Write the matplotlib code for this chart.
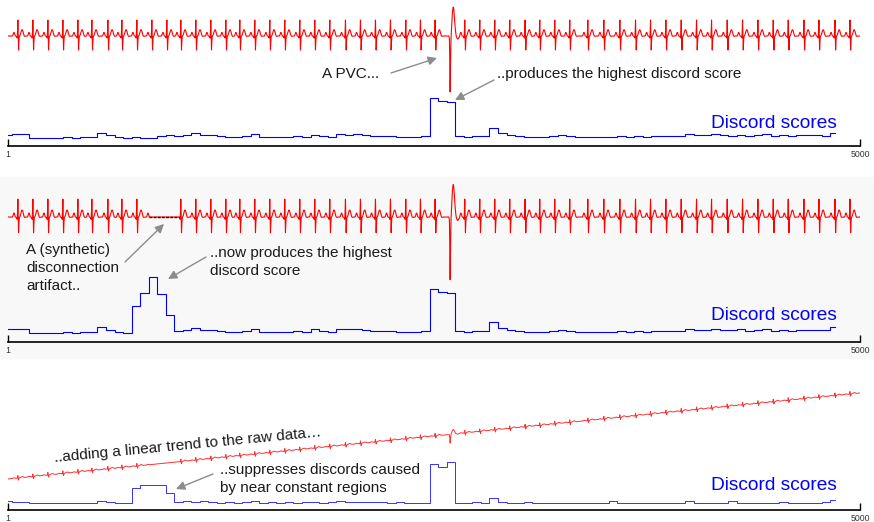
import matplotlib
matplotlib.use('Agg')
import matplotlib.pyplot as plt
from matplotlib.patches import Rectangle
import numpy as np

plt.rcParams['font.family'] = ['Liberation Sans', 'DejaVu Sans']

W, H = 874, 522
n_samples = 5000

# normal beat, one value every 2 samples, from 32 samples before R to 48 after
beat_shape = [0.0, 0.05, 0.15, 0.28, 0.35, 0.35, 0.28, 0.15, 0.05, 0.0,
              -0.02, -0.03, -0.05, -0.1, -0.2, 0.5, 1.6, 0.2, -1.4, -0.6,
              -0.1, 0.0, 0.05, 0.12, 0.22, 0.35, 0.48, 0.58, 0.62, 0.62,
              0.55, 0.42, 0.28, 0.15, 0.06, 0.0, -0.03, -0.03, -0.02, -0.01, 0.0]
beat_before = 32

# premature ventricular contraction, every 2 samples from 8 before to 64 after
pvc_shape = [0.0, -0.1, -0.3, -2.5, -5.6, -3.0, -1.2, 0.0, 0.7, 1.3,
             1.9, 2.4, 2.7, 2.9, 2.85, 2.6, 2.2, 1.7, 1.2, 0.8,
             0.45, 0.2, 0.0, -0.1, -0.2, -0.25, -0.3, -0.3, -0.25, -0.2,
             -0.15, -0.1, -0.05, -0.02, 0.0, 0.0, 0.0]
pvc_before = 8

beat_times = [59, 147, 235, 323, 411, 493, 587, 669, 757, 845, 933, 1015,
              1103, 1191, 1279, 1361, 1449, 1537, 1625, 1713, 1801, 1889,
              1982, 2070, 2158, 2246, 2335, 2422, 2507, 2682, 2770, 2858,
              2946, 3036, 3122, 3210, 3298, 3403, 3497, 3591, 3683, 3771,
              3861, 3951, 4041, 4129, 4221, 4311, 4401, 4491, 4579, 4671,
              4760, 4853, 4941]
pvc_time = 2595

# flat-lined stretch in the second recording
gap = (830, 1008)
trend_rise = 55.0

# discord scores, one value every 50 samples
score1 = [1.13, 1.2, 1.2, 0.8, 0.78, 0.83, 0.8, 0.85, 0.82, 0.9,
          0.86, 1.3, 1.1, 0.85, 0.83, 0.86, 0.83, 0.8, 1.0, 1.05,
          0.98, 1.1, 1.25, 1.1, 1.05, 0.95, 0.87, 0.9, 0.95, 1.2,
          0.85, 0.88, 0.93, 0.9, 0.95, 0.93, 1.13, 0.98, 0.92, 1.15,
          1.13, 1.18, 1.05, 1.0, 0.95, 0.95, 0.88, 0.88, 0.9, 1.0,
          4.75, 4.45, 4.35, 0.95, 0.9, 1.0, 0.95, 1.8, 1.25, 1.05,
          1.0, 0.9, 0.9, 0.9, 0.95, 1.05, 1.0, 0.92, 0.9, 0.9,
          0.87, 0.9, 0.95, 0.92, 0.96, 0.93, 0.98, 0.96, 1.0, 0.97,
          1.15, 1.1, 1.06, 1.18, 1.1, 1.04, 1.13, 1.0, 1.06, 1.15,
          1.0, 1.05, 0.98, 1.1, 1.06, 1.1, 1.03, 1.3]
score2 = list(score1)
score2[15:20] = [3.2, 4.4, 5.8, 4.3, 2.4]
score3 = [0.9, 0.8, 0.85, 0.7, 0.75, 0.7, 0.75, 0.7, 0.75, 0.7,
          0.75, 0.95, 0.85, 0.75, 0.75, 2.2, 2.55, 2.55, 2.5, 1.7,
          0.8, 0.95, 0.8, 0.95, 0.85, 0.75, 0.8, 0.75, 0.85, 0.95,
          0.75, 0.8, 0.75, 0.8, 0.75, 0.8, 0.85, 0.75, 0.8, 0.95,
          0.8, 0.85, 0.8, 0.85, 0.8, 0.75, 0.8, 0.75, 0.75, 0.75,
          4.6, 4.3, 4.8, 0.7, 0.7, 0.85, 0.7, 1.25, 0.8, 0.7,
          0.75, 0.85, 0.7, 0.7, 0.7, 0.75, 0.7, 0.7, 0.75, 0.7,
          0.7, 0.9, 0.75, 0.7, 0.7, 0.7, 0.75, 0.7, 0.7, 0.7,
          0.9, 0.75, 0.7, 0.75, 0.7, 0.9, 0.75, 0.7, 0.75, 0.7,
          0.7, 0.85, 0.7, 0.75, 0.7, 0.75, 0.8, 1.0]
score_step = 50


def px(x, y):
    return x / W, 1 - y / H


def build_ecg():
    t = np.arange(1, n_samples + 1, 2)
    ecg = np.zeros(len(t))
    for b in beat_times:
        k = (b - 1) // 2 - beat_before // 2
        ecg[k:k + len(beat_shape)] += beat_shape
    k = (pvc_time - 1) // 2 - pvc_before // 2
    ecg[k:k + len(pvc_shape)] += pvc_shape
    return t, ecg


def panel(fig, top, bottom, sig_lim, mp_lim):
    rect = [8 / W, 1 - bottom / H, 852 / W, (bottom - top) / H]
    ax_sig = fig.add_axes(rect)
    ax_mp = fig.add_axes(rect)
    for a in (ax_sig, ax_mp):
        a.set_xlim(1, n_samples)
        a.patch.set_alpha(0)
    ax_sig.set_ylim(*sig_lim)
    ax_sig.axis('off')
    ax_mp.set_ylim(*mp_lim)
    for s in ('top', 'left', 'right'):
        ax_mp.spines[s].set_visible(False)
    ax_mp.spines['bottom'].set_linewidth(1.2)
    ax_mp.set_yticks([])
    ax_mp.set_xticks([1, n_samples])
    ax_mp.tick_params(axis='x', direction='in', length=5, width=1,
                      labelsize=6.3, pad=3, labelcolor='#333333')
    return ax_sig, ax_mp


def arrow(fig, x0, y0, x1, y1):
    fig.axes[0].annotate('', xy=(x1, H - y1), xycoords='figure pixels',
                         xytext=(x0, H - y0), textcoords='figure pixels',
                         arrowprops=dict(arrowstyle='-|>', color='#8c8c8c', lw=1,
                                         mutation_scale=13, shrinkA=0, shrinkB=0))


def label(fig, x, y, s, **kw):
    # y is the baseline of the last line
    fx, fy = px(x, y)
    fig.text(fx, fy, s, fontsize=11, color='#1a1a1a', va='baseline',
             linespacing=1.38, **kw)


t, ecg1 = build_ecg()
ecg2 = ecg1.copy()
flat = (t >= gap[0]) & (t <= gap[1])
ecg2[flat] = 0.0
ecg3 = ecg2 + np.linspace(0, trend_rise, len(t))

score_x = 1 + score_step * np.arange(len(score1))

fig = plt.figure(figsize=(W / 100, H / 100), dpi=100)
fig.patch.set_facecolor('white')

# shaded band behind the middle recording
fig.patches.append(Rectangle(px(0, 358), 1, 181 / H, transform=fig.transFigure,
                             color='#f8f8f8', zorder=-1))

# top: original recording
s1, m1 = panel(fig, 0, 146, (-11.0, 3.6), (0, 14.6))
s1.plot(t, ecg1, color='#ff0000', lw=0.8)
m1.plot(score_x, score1, color='#0000ff', lw=0.8, drawstyle='steps-mid')

# middle: with the disconnection artifact
s2, m2 = panel(fig, 170, 342, (-11.16, 4.2), (0, 15.36))
s2.plot(t, ecg2, color='#ff0000', lw=0.8)
s2.plot(t[flat], ecg2[flat], color='#3a0000', lw=1.0, linestyle=(0, (2, 1)))
m2.plot(score_x, score2, color='#0000ff', lw=0.8, drawstyle='steps-mid')

# bottom: same data plus a linear trend
s3, m3 = panel(fig, 380, 510, (-19.83, 63.32), (0, 13.0))
s3.plot(t, ecg3, color='#ff3030', lw=0.7)
m3.plot(score_x, score3, color='#3333ff', lw=0.7, drawstyle='steps-mid')

for yb in (128.3, 320.5, 490):
    fx, fy = px(711, yb)
    fig.text(fx, fy, 'Discord scores', fontsize=13.8, color='#0000ff', va='baseline')

label(fig, 322, 78.3, 'A PVC...')
label(fig, 497, 78.3, '..produces the highest discord score')
arrow(fig, 391, 73, 437, 58)
arrow(fig, 494, 80, 455, 100)

label(fig, 26, 290, 'A (synthetic)\ndisconnection\nartifact..')
label(fig, 210, 275, '..now produces the highest\ndiscord score')
arrow(fig, 125, 262, 164, 224)
arrow(fig, 206, 257, 168, 279)

fx, fy = px(55, 462)
fig.text(fx, fy, '..adding a linear trend to the raw data\u2026', fontsize=11,
         color='#1a1a1a', rotation=5.5, rotation_mode='anchor',
         ha='left', va='baseline')
label(fig, 220, 492.3, '..suppresses discords caused\nby near constant regions')
arrow(fig, 213, 474, 176, 489)

fig.savefig('out.png', dpi=100)
